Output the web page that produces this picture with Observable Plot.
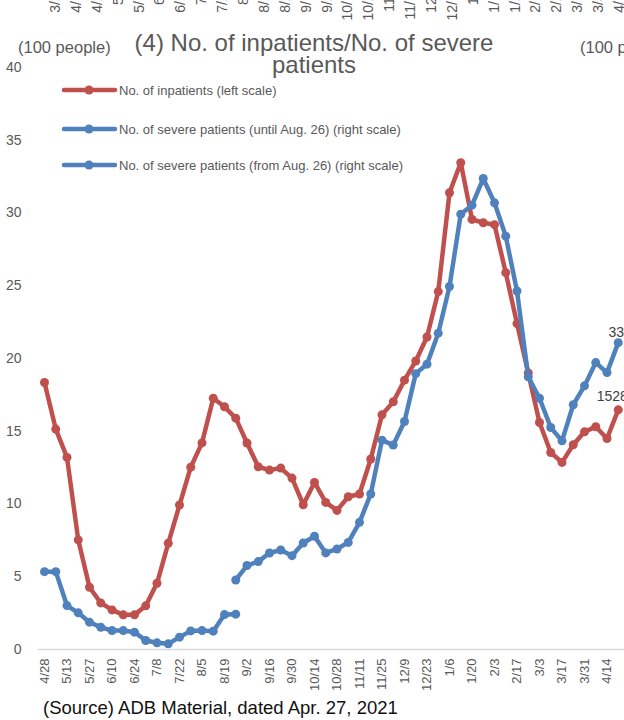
<!DOCTYPE html>
<html>
<head>
<meta charset="utf-8">
<script src="https://cdn.jsdelivr.net/npm/d3@7"></script>
<script src="https://cdn.jsdelivr.net/npm/@observablehq/plot@0.6"></script>
<style>
html,body{margin:0;padding:0;width:624px;height:720px;overflow:hidden;background:#fff;font-family:"Liberation Sans",Arial,sans-serif;}
#wrap{position:relative;width:624px;height:720px;overflow:hidden;}
#chart{position:absolute;left:0;top:0;}
#prev{position:absolute;left:0;top:-15px;}
.t{position:absolute;white-space:nowrap;color:#595959;}
.leg{position:absolute;left:61px;height:16px;display:flex;align-items:center;white-space:nowrap;color:#595959;font-size:13px;}
.leg svg{display:block;margin-right:1px;}
</style>
</head>
<body>
<div id="wrap">
  <div id="prev"></div>
  <div id="chart"></div>
  <div class="t" id="title" style="left:0;width:628px;text-align:center;top:32px;font-size:24px;line-height:21.5px;"></div>
  <div class="t" id="unitL" style="left:18px;top:37px;font-size:16.5px;line-height:20px;"></div>
  <div class="t" id="unitR" style="left:580px;top:37px;font-size:16.5px;line-height:20px;"></div>
  <div id="legend"></div>
  <div class="t" id="source" style="left:43px;top:697px;font-size:18.5px;line-height:22px;color:#111;"></div>
</div>
<script>
// ---- data ----
const dates = ["4/28","5/6","5/13","5/20","5/27","6/3","6/10","6/17","6/24","7/1","7/8","7/15","7/22","7/29",
  "8/5","8/12","8/19","8/26","9/2","9/9","9/16","9/23","9/30","10/7","10/14","10/21","10/28","11/4","11/11",
  "11/18","11/25","12/2","12/9","12/16","12/23","12/30","1/6","1/13","1/20","1/27","2/3","2/10","2/17","2/24",
  "3/3","3/10","3/17","3/24","3/31","4/7","4/14","4/21"];
const inpatients = [18.35,15.15,13.2,7.53,4.28,3.2,2.72,2.38,2.38,3.0,
  4.55,7.3,9.93,12.53,14.2,17.27,16.68,15.9,14.19,12.56,
  12.33,12.47,11.78,9.95,11.48,10.11,9.56,10.5,10.69,13.09,
  16.13,17.02,18.51,19.83,21.48,24.6,31.39,33.45,29.56,29.33,
  29.2,25.9,22.4,19.0,15.6,13.54,12.86,14.07,14.96,15.31,
  14.5,16.47];
// severe patients, drawn in left-scale units (the right axis is cut off in the reference)
const severeUntilAug26 = [5.35,5.35,3.02,2.52,1.88,1.53,1.30,1.30,1.19,0.62,0.46,0.39,0.85,1.28,1.30,1.26,2.40,2.43];
const severeFromAug26Start = "8/26";
const severeFromAug26 = [4.78,5.77,6.04,6.63,6.84,6.45,7.32,7.78,6.64,6.91,
  7.36,8.74,10.69,14.39,14.05,15.67,18.96,19.61,21.74,24.95,
  29.92,30.54,32.37,30.7,28.41,24.64,18.74,17.27,15.26,14.34,
  16.82,18.12,19.72,19.03,21.09];
const yTicks = [0,5,10,15,20,25,30,35,40];
const endLabels = ["1528","332"];
const prevAxisLabels = ["3/24","4/14","4/28","5/5","5/19","6/2","6/16","7/7","7/21","8/4","8/18","8/25","9/15","9/29",
  "10/13","10/27","11/3","11/17","12/1","12/15","1/5","1/19","1/26","2/16","2/23","3/16","3/30","4/13"];
const seriesNames = ["No. of inpatients (left scale)",
  "No. of severe patients (until Aug. 26) (right scale)",
  "No. of severe patients (from Aug. 26) (right scale)"];
const titleLines = ["(4) No. of inpatients/No. of severe","patients"];
const unitLabel = "(100 people)";
const sourceText = "(Source) ADB Material, dated Apr. 27, 2021";

const red = "#C0504D", blue = "#4F81BD";
const font = '"Liberation Sans", Arial, sans-serif';

// x is the week's position in the dates list; ticks show the date labels
const tInp = dates.map((d,i)=>({i, v:inpatients[i]}));
const tS1 = severeUntilAug26.map((v,i)=>({i, v}));
const off = dates.indexOf(severeFromAug26Start);
const tS2 = severeFromAug26.map((v,i)=>({i:i+off, v}));
const lastRed = [{...tInp[tInp.length-1], label:endLabels[0]}];
const lastBlue = [{...tS2[tS2.length-1], label:endLabels[1]}];
const xTicks = dates.map((d,i)=>i).filter(i=>i%2===0);

const chart = Plot.plot({
  width:624, height:720, marginTop:67, marginBottom:71, marginLeft:38, marginRight:0,
  style:{fontFamily:font, fontSize:"13px", color:"#595959", background:"transparent", overflow:"visible"},
  x:{type:"linear", domain:[0, dates.length-1], range:[44, 617.75]},
  y:{domain:[0,40]},
  marks:[
    Plot.ruleY([0], {stroke:"#d9d9d9", strokeWidth:1.5}),
    Plot.axisX({ticks:xTicks, tickFormat:i=>dates[i], tickRotate:-90, tickSize:0, tickPadding:9, label:null, fontSize:13}),
    Plot.axisY({ticks:yTicks, tickSize:0, tickPadding:17, label:null, fontSize:14}),
    Plot.line(tInp, {x:"i", y:"v", stroke:red, strokeWidth:4.5, strokeLinejoin:"round"}),
    Plot.dot(tInp, {x:"i", y:"v", fill:red, r:4.5}),
    Plot.line(tS1, {x:"i", y:"v", stroke:blue, strokeWidth:4.5, strokeLinejoin:"round"}),
    Plot.dot(tS1, {x:"i", y:"v", fill:blue, r:4.5}),
    Plot.line(tS2, {x:"i", y:"v", stroke:blue, strokeWidth:4.5, strokeLinejoin:"round"}),
    Plot.dot(tS2, {x:"i", y:"v", fill:blue, r:4.5}),
    Plot.text(lastRed, {x:"i", y:"v", text:"label", dx:-6, dy:-13, fill:"#404040", fontSize:14}),
    Plot.text(lastBlue, {x:"i", y:"v", text:"label", dx:2, dy:-10, fill:"#404040", fontSize:14})
  ]
});
document.getElementById("chart").appendChild(chart);

const prevTicks = prevAxisLabels.map((d,i)=>i);
const prev = Plot.plot({
  width:624, height:50, marginTop:0, marginBottom:50, marginLeft:0, marginRight:0,
  style:{fontFamily:font, fontSize:"14px", color:"#595959", background:"transparent"},
  x:{type:"linear", domain:[0, prevAxisLabels.length-1], range:[55,619]},
  marks:[Plot.axisX({ticks:prevTicks, tickFormat:i=>prevAxisLabels[i], tickRotate:-90, tickSize:0, tickPadding:0, label:null, fontSize:14})]
});
document.getElementById("prev").appendChild(prev);

const titleEl = document.getElementById("title");
titleEl.appendChild(document.createTextNode(titleLines[0]));
titleEl.appendChild(document.createElement("br"));
titleEl.appendChild(document.createTextNode(titleLines[1]));
document.getElementById("unitL").textContent = unitLabel;
document.getElementById("unitR").textContent = unitLabel;
document.getElementById("source").textContent = sourceText;

const legTops = [82, 121, 157];
const legColors = [red, blue, blue];
const legend = document.getElementById("legend");
seriesNames.forEach((name,i)=>{
  const div = document.createElement("div");
  div.className = "leg";
  div.style.top = legTops[i] + "px";
  div.innerHTML = `<svg width="57" height="16"><line x1="3" y1="8" x2="54" y2="8" stroke="${legColors[i]}" stroke-width="4.5" stroke-linecap="round"/><circle cx="28" cy="8" r="4.5" fill="${legColors[i]}"/></svg>`;
  const span = document.createElement("span");
  span.textContent = name;
  div.appendChild(span);
  legend.appendChild(div);
});
</script>
</body>
</html>
